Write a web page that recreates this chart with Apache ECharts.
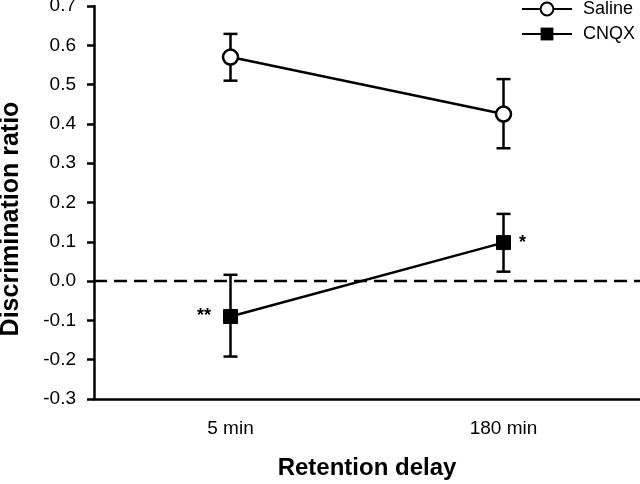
<!DOCTYPE html>
<html>
<head>
<meta charset="utf-8">
<script src="https://cdn.jsdelivr.net/npm/echarts@6/dist/echarts.min.js"></script>
<style>html,body{margin:0;padding:0;background:#fff}#c{width:640px;height:484px}</style>
</head>
<body>
<div id="c"></div>
<script>
var categories = ['5 min', '180 min'];
var salineMean = [0.570, 0.425];
var salineLow  = [0.510, 0.338];
var salineHigh = [0.629, 0.514];
var cnqxMean = [-0.090, 0.098];
var cnqxLow  = [-0.192, 0.024];
var cnqxHigh = [0.016, 0.171];
var cnqxMarks = ['**', '*'];
var referenceLevel = [0];
var yMin = -0.3, yMax = 0.7, yStep = 0.1;

var FONT = '"Liberation Sans", Arial, sans-serif';

function errorSeries(low, high) {
  return {
    type: 'custom',
    silent: true,
    z: 1,
    data: categories.map(function (c, i) { return [i, low[i], high[i]]; }),
    renderItem: function (params, api) {
      var x = api.value(0);
      var lo = api.coord([x, api.value(1)]);
      var hi = api.coord([x, api.value(2)]);
      var w = 7;
      var st = { stroke: '#000', lineWidth: 2.5 };
      return {
        type: 'group',
        children: [
          { type: 'line', shape: { x1: lo[0], y1: lo[1], x2: hi[0], y2: hi[1] }, style: st },
          { type: 'line', shape: { x1: lo[0] - w, y1: lo[1], x2: lo[0] + w, y2: lo[1] }, style: st },
          { type: 'line', shape: { x1: hi[0] - w, y1: hi[1], x2: hi[0] + w, y2: hi[1] }, style: st }
        ]
      };
    }
  };
}

var chart = echarts.init(document.getElementById('c'), null, { renderer: 'canvas' });
chart.setOption({
  animation: false,
  backgroundColor: '#fff',
  textStyle: { fontFamily: FONT },
  grid: { left: 94, right: 0, top: 6, bottom: 85, containLabel: false, outerBoundsMode: 'none' },
  legend: {
    right: 0, top: -5, orient: 'vertical', itemWidth: 50, itemHeight: 16, itemGap: 7,
    textStyle: { fontFamily: FONT, fontSize: 18, color: '#000', padding: [0, 0, 0, 6] },
    data: ['Saline', 'CNQX']
  },
  xAxis: {
    type: 'category', data: categories, boundaryGap: true,
    name: 'Retention delay', nameLocation: 'middle', nameGap: 57,
    nameTextStyle: { fontFamily: FONT, fontSize: 24, fontWeight: 'bold', color: '#000' },
    axisLine: { onZero: false, lineStyle: { color: '#000', width: 2.5 } },
    axisTick: { alignWithLabel: true, length: 7, lineStyle: { color: '#000', width: 2.5 } },
    axisLabel: { fontFamily: FONT, fontSize: 19, color: '#000', margin: 20 },
    splitLine: { show: false }
  },
  yAxis: {
    type: 'value', min: yMin, max: yMax, interval: yStep,
    name: 'Discrimination ratio', nameLocation: 'middle', nameGap: 70,
    nameTextStyle: { fontFamily: FONT, fontSize: 25, fontWeight: 'bold', color: '#000',
      padding: [0, 33, 0, 0] },
    axisLine: { show: true, lineStyle: { color: '#000', width: 2.5 } },
    axisTick: { show: true, length: 7, lineStyle: { color: '#000', width: 2.5 } },
    axisLabel: { fontFamily: FONT, fontSize: 19, color: '#000', margin: 18,
      padding: [4, 0, 0, 0],
      formatter: function (v) { return v.toFixed(1); } },
    splitLine: { show: false }
  },
  series: [
    {
      type: 'custom', silent: true, z: 0,
      data: referenceLevel.map(function (v) { return [0, v]; }),
      renderItem: function (params, api) {
        var cs = params.coordSys;
        var y = api.coord([0, api.value(1)])[1];
        return {
          type: 'line',
          shape: { x1: cs.x, y1: y, x2: cs.x + cs.width, y2: y },
          style: { stroke: '#000', lineWidth: 2.5, lineDash: [13, 7] }
        };
      }
    },
    errorSeries(salineLow, salineHigh),
    errorSeries(cnqxLow, cnqxHigh),
    {
      name: 'Saline', type: 'line', z: 3, data: salineMean,
      symbol: 'circle', symbolSize: 15,
      lineStyle: { color: '#000', width: 2.5 },
      itemStyle: { color: '#fff', borderColor: '#000', borderWidth: 2.5 }
    },
    {
      name: 'CNQX', type: 'line', z: 3,
      data: cnqxMean.map(function (v, i) {
        return { value: v, label: { show: true, formatter: cnqxMarks[i],
          position: i === 0 ? 'left' : 'right', distance: i === 0 ? 12 : 8,
          fontFamily: FONT, fontSize: 18, fontWeight: 'bold', color: '#000' } };
      }),
      symbol: 'rect', symbolSize: 14,
      lineStyle: { color: '#000', width: 2.5 },
      itemStyle: { color: '#000', borderColor: '#000' }
    }
  ]
});
</script>
</body>
</html>
